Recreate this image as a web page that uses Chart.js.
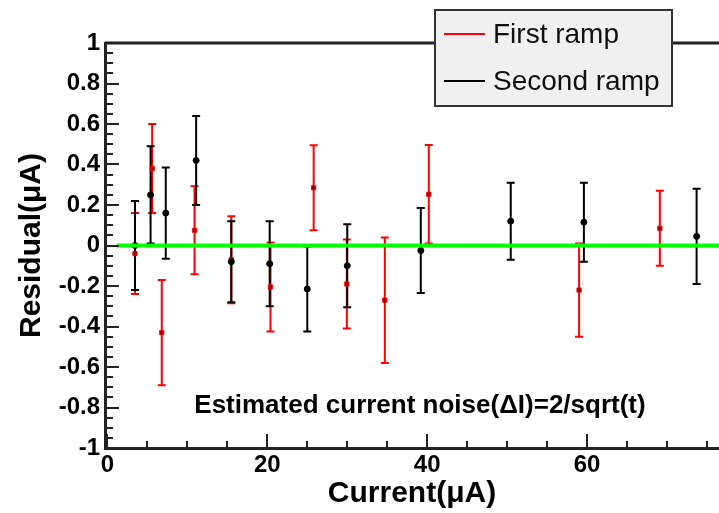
<!DOCTYPE html>
<html>
<head>
<meta charset="utf-8">
<script src="https://cdn.jsdelivr.net/npm/chart.js@4.4.1/dist/chart.umd.min.js"></script>
<style>
  html, body { margin: 0; padding: 0; background: #ffffff; }
  #wrap { width: 719px; height: 513px; position: relative; }
</style>
</head>
<body>
<div id="wrap"><canvas id="c" width="719" height="513"></canvas></div>
<script>
// ---- data ----
const seriesNames = ["First ramp", "Second ramp"];
const firstX   = [3.45, 5.6, 6.8, 10.9, 15.5, 20.4, 25.8, 29.95, 34.7, 40.2, 59.0, 69.1];
const firstY   = [-0.04, 0.38, -0.43, 0.075, -0.07, -0.205, 0.285, -0.19, -0.27, 0.253, -0.22, 0.085];
const firstErr = [0.20, 0.22, 0.26, 0.217, 0.215, 0.22, 0.21, 0.22, 0.31, 0.243, 0.23, 0.185];
const secondX   = [3.45, 5.4, 7.3, 11.1, 15.5, 20.3, 25.0, 30.0, 39.2, 50.45, 59.6, 73.7];
const secondY   = [0.0, 0.25, 0.16, 0.42, -0.08, -0.09, -0.215, -0.10, -0.025, 0.12, 0.115, 0.045];
const secondErr = [0.22, 0.24, 0.225, 0.22, 0.20, 0.21, 0.21, 0.205, 0.21, 0.19, 0.195, 0.235];
const fitX = [1.15, 76.5];
const fitY = [0, 0];
const xTicks = [0, 20, 40, 60];
const yTicks = [-1, -0.8, -0.6, -0.4, -0.2, 0, 0.2, 0.4, 0.6, 0.8, 1];
const xTitle = "Current(\u03bcA)";
const yTitle = "Residual(\u03bcA)";
const noteText = "Estimated current noise(\u0394I)=2/sqrt(t)";

// ---- styles ----
const FONT = "'Liberation Sans', Arial, Helvetica, sans-serif";
const colors = ["#ff0000", "#000000"];
const xMinorStep = 5, yMinorStep = 0.05;
const notePos = { x: 39.1, y: -0.79 };

const toPts = (xs, ys) => xs.map((x, i) => ({ x: x, y: ys[i] }));

const errorBarPlugin = {
  id: 'errorBars',
  beforeDatasetsDraw(chart) {
    const ctx = chart.ctx, xs = chart.scales.x, ys = chart.scales.y;
    const sets = [[firstX, firstY, firstErr, colors[0]], [secondX, secondY, secondErr, colors[1]]];
    ctx.save();
    ctx.beginPath();
    ctx.rect(chart.chartArea.left, chart.chartArea.top, chart.chartArea.right - chart.chartArea.left, chart.chartArea.bottom - chart.chartArea.top);
    ctx.clip();
    sets.forEach(([X, Y, E, col]) => {
      ctx.strokeStyle = col;
      ctx.lineWidth = 2;
      X.forEach((xv, i) => {
        const px = xs.getPixelForValue(xv);
        const top = ys.getPixelForValue(Y[i] + E[i]);
        const bot = ys.getPixelForValue(Y[i] - E[i]);
        ctx.beginPath();
        ctx.moveTo(px, top); ctx.lineTo(px, bot);
        ctx.moveTo(px - 4, top); ctx.lineTo(px + 4, top);
        ctx.moveTo(px - 4, bot); ctx.lineTo(px + 4, bot);
        ctx.stroke();
      });
    });
    ctx.restore();
  },
  afterDraw(chart) {
    const ctx = chart.ctx, xs = chart.scales.x, ys = chart.scales.y;
    const a = chart.chartArea;
    ctx.save();
    // top frame line
    ctx.strokeStyle = '#222';
    ctx.lineWidth = 3;
    ctx.beginPath();
    ctx.moveTo(a.left, a.top); ctx.lineTo(a.right, a.top);
    ctx.stroke();
    // inside ticks
    ctx.lineWidth = 2;
    ctx.beginPath();
    for (let v = 0; v <= xs.max + 1e-9; v += xMinorStep) {
      const px = Math.round(xs.getPixelForValue(v));
      if (px > a.right) break;
      const major = xTicks.some(t => Math.abs(t - v) < 1e-6);
      const len = major ? 14 : 7;
      ctx.moveTo(px, a.bottom); ctx.lineTo(px, a.bottom - len);
    }
    for (let k = 0; ; k++) {
      const v = ys.min + k * yMinorStep;
      if (v > ys.max + 1e-9) break;
      const py = Math.round(ys.getPixelForValue(v));
      const major = yTicks.some(t => Math.abs(t - v) < 1e-6);
      const len = major ? 14 : 8;
      ctx.moveTo(a.left, py); ctx.lineTo(a.left + len, py);
    }
    ctx.stroke();
    // annotation
    ctx.fillStyle = '#000';
    ctx.font = "bold 26px " + FONT;
    ctx.textAlign = 'center';
    ctx.textBaseline = 'middle';
    ctx.fillText(noteText, xs.getPixelForValue(notePos.x), ys.getPixelForValue(notePos.y));
    // legend
    const lx = 435, ly = 10, lw = 237, lh = 96;
    ctx.fillStyle = '#f0f0f0';
    ctx.fillRect(lx, ly, lw, lh);
    ctx.strokeStyle = '#333';
    ctx.lineWidth = 2;
    ctx.strokeRect(lx, ly, lw, lh);
    ctx.font = "28px " + FONT;
    ctx.textAlign = 'left';
    seriesNames.forEach((name, i) => {
      const yy = ly + 24 + i * 47;
      ctx.strokeStyle = colors[i];
      ctx.lineWidth = 2;
      ctx.beginPath();
      ctx.moveTo(lx + 9, yy); ctx.lineTo(lx + 50, yy);
      ctx.stroke();
      ctx.fillStyle = '#111';
      ctx.fillText(name, lx + 58, yy + 1);
    });
    ctx.restore();
  }
};

new Chart(document.getElementById('c'), {
  type: 'scatter',
  data: {
    datasets: [
      {
        type: 'line', label: 'fit', data: toPts(fitX, fitY),
        borderColor: '#00ff00', borderWidth: 4, pointRadius: 0, order: 0, showLine: true
      },
      {
        label: seriesNames[0], data: toPts(firstX, firstY),
        pointStyle: 'rect', pointRadius: 3, backgroundColor: '#880000', borderColor: '#ff0000', borderWidth: 1, order: 2
      },
      {
        label: seriesNames[1], data: toPts(secondX, secondY),
        pointStyle: 'circle', pointRadius: 3, backgroundColor: '#000', borderColor: '#000', borderWidth: 1, order: 1
      }
    ]
  },
  options: {
    responsive: false,
    animation: false,
    devicePixelRatio: 1,
    layout: { autoPadding: false, padding: { top: 43, right: 0, left: 0, bottom: 0 } },
    plugins: { legend: { display: false }, tooltip: { enabled: false } },
    scales: {
      x: {
        type: 'linear', min: -0.3, max: 76.5,
        afterBuildTicks: s => { s.ticks = xTicks.map(v => ({ value: v })); },
        afterFit: s => { s.height = 65; s.paddingLeft = 0; s.paddingRight = 0; },
        grid: { display: false, drawTicks: false },
        border: { display: true, color: '#222', width: 3 },
        ticks: { color: '#000', font: { family: FONT, size: 24, weight: 'bold' }, padding: 3, maxRotation: 0 },
        title: { display: true, text: xTitle, color: '#000', font: { family: FONT, size: 30, weight: 'bold', lineHeight: 1.2 }, padding: { top: 0, bottom: 1 } }
      },
      y: {
        type: 'linear', min: -1, max: 1,
        afterBuildTicks: s => { s.ticks = yTicks.map(v => ({ value: v })); },
        afterFit: s => { s.width = 105; },
        grid: { display: false, drawTicks: false },
        border: { display: true, color: '#222', width: 3 },
        ticks: { color: '#000', font: { family: FONT, size: 24, weight: 'bold' }, padding: 5, callback: v => String(v) },
        title: { display: true, text: yTitle, color: '#000', font: { family: FONT, size: 30, weight: 'bold', lineHeight: 1.2 }, padding: { top: 14, bottom: 0 } }
      }
    }
  },
  plugins: [errorBarPlugin]
});
</script>
</body>
</html>
